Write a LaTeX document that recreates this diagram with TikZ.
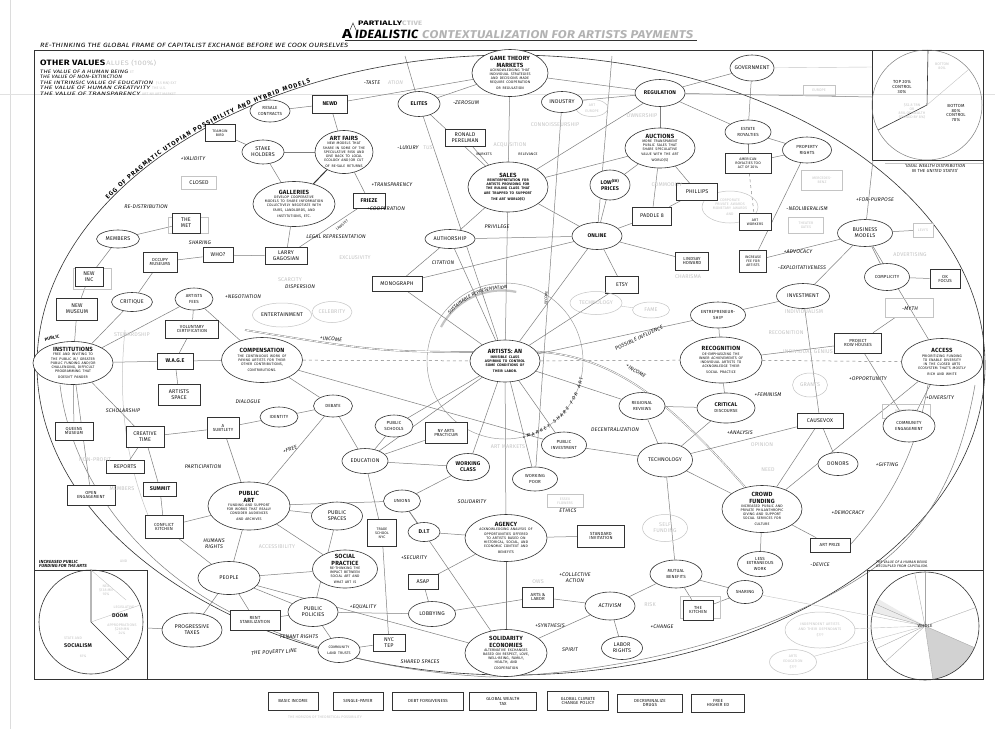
\documentclass[tikz,border=0pt]{standalone}
\usepackage{fontspec}
\setmainfont{Fira Sans}[LetterSpace=3]
\usepackage{graphicx}
\usetikzlibrary{shapes.geometric,decorations.text}
\pgfdeclarelayer{bg}
\pgfsetlayers{bg,main}
\definecolor{ink}{HTML}{111111}
\definecolor{edge}{HTML}{333333}
\definecolor{pencil}{HTML}{7E7E7E}
\definecolor{ghost}{HTML}{C4C4C4}
\newcommand\mydsc{\fontsize{3.6}{4.1}\selectfont}
\newcommand\myttl{\fontsize{6}{6.4}\selectfont\bfseries}
\newcommand\mylbl{\fontsize{5.4}{6}\selectfont}
\newcommand\mysml{\fontsize{4.4}{4.9}\selectfont}
\newcommand\mypm{\fontsize{5.3}{5.8}\selectfont\itshape}
\tikzset{
  lbl/.style={align=center,font=\mylbl,inner sep=0pt,text=ink},
  E/.style n args={3}{ellipse,draw=edge,fill=white,line width=.6pt,minimum width=#1,minimum height=#2,inner sep=0pt,label={[lbl,text width=#1pt]center:{#3}}},
  GE/.style n args={3}{ellipse,draw=ghost,line width=.5pt,minimum width=#1,minimum height=#2,inner sep=0pt,label={[lbl,text width=#1pt,text=ghost]center:{#3}}},
  B/.style={rectangle,draw=edge,fill=white,line width=.6pt,inner sep=1pt,align=center,font=\mylbl,text=ink},
  GB/.style={rectangle,draw=ghost,line width=.5pt,inner sep=1pt,align=center,font=\mylbl,text=ghost},
  ln/.style={draw=pencil,line width=.5pt},
  gl/.style={draw=ghost,line width=.4pt},
  pm/.style={font=\mypm,text=ink,inner sep=0pt},
  gt/.style={font=\mylbl,text=ghost,inner sep=0pt,align=center},
  tx/.style={font=\mylbl,text=ink,inner sep=0pt,align=center},
}
\begin{document}
\begin{tikzpicture}[x=1pt,y=-1pt]
\useasboundingbox (0,0) rectangle (995,729);
% ---------- title and header ----------
\node[inner sep=0,anchor=base west] (tA) at (342,38) {\resizebox{10pt}{9pt}{\bfseries A}};
\node[inner sep=0,anchor=base west] (tIdeal) at (355,38) {\resizebox{63pt}{8.5pt}{\bfseries\itshape IDEALISTIC}};
\node[inner sep=0,anchor=base west,text=gray!60] (tCont) at (422,38) {\resizebox{271pt}{8pt}{\bfseries\itshape CONTEXTUALIZATION FOR ARTISTS PAYMENTS}};
\node[inner sep=0,anchor=base west] (tPart) at (358,25) {\resizebox{44pt}{4.5pt}{\bfseries PARTIALLY}};
\node[inner sep=0,anchor=base west,text=ghost] (tCtive) at (402,25) {\resizebox{20pt}{4.5pt}{\bfseries CTIVE}};
\node[inner sep=0,anchor=base west] (tHead) at (40,47) {\resizebox{308pt}{4.3pt}{\itshape RE-THINKING THE GLOBAL FRAME OF CAPITALIST EXCHANGE BEFORE WE COOK OURSELVES}};
\node[inner sep=0,anchor=base west] (tOther) at (40,65) {\resizebox{65pt}{5.5pt}{\bfseries OTHER VALUES}};
\node[inner sep=0,anchor=base west,text=ghost] (tOtherG) at (106,65) {\resizebox{50pt}{5.5pt}{ALUES (100\%)}};
\node[inner sep=0,anchor=base west] (tV1) at (40,73) {\resizebox{88pt}{3.4pt}{\itshape THE VALUE OF A HUMAN BEING}};
\node[inner sep=0,anchor=base west] (tV2) at (40,78.5) {\resizebox{82pt}{3.4pt}{\itshape THE VALUE OF NON-EXTINCTION}};
\node[inner sep=0,anchor=base west] (tV3) at (40,84) {\resizebox{113pt}{3.4pt}{\itshape THE INTRINSIC VALUE OF EDUCATION}};
\node[inner sep=0,anchor=base west] (tV4) at (40,89.5) {\resizebox{110pt}{3.4pt}{\itshape THE VALUE OF HUMAN CREATIVITY}};
\node[inner sep=0,anchor=base west] (tV5) at (40,95) {\resizebox{100pt}{3.4pt}{\itshape THE VALUE OF TRANSPARENCY}};
\node[gt,font=\mydsc,anchor=base west] (tG1) at (130,73) {ET};
\node[gt,font=\mydsc,anchor=base west] (tG2) at (156,84) {(1.5 MN) EXT};
\node[gt,font=\mydsc,anchor=base west] (tG3) at (152,89.5) {THE U.S.};
\node[gt,font=\mydsc,anchor=base west] (tG4) at (142,95) {ART NY ART MARKET};
% ---------- top nodes ----------
\node[E={76}{47}{{\myttl GAME THEORY\\MARKETS\endgraf}\mydsc ACKNOWLEDGING THAT\\INDIVIDUAL STRATEGIES\\AND DECISIONS MADE\\REQUIRE COOPERATION\\OR REGULATION}] (gtm) at (510,73) {};
\node[B,minimum width=35,minimum height=18] (newd) at (330,104) {\bfseries NEWD};
\node[E={40}{22}{\mysml RESALE\\CONTRACTS}] (resale) at (270,111) {};
\node[B,font=\mydsc,minimum width=30,minimum height=17] (teamgin) at (220,133) {TEAMGIN\\BIRD};
\node[E={42}{25}{\bfseries ELITES}] (elites) at (419,104) {};
\node[GE={32}{17}{\mydsc ART\\EUROPE}] (arteurope) at (592,108) {};
\node[E={41}{21}{INDUSTRY}] (industry) at (562,102) {};
\node[E={50}{27}{\bfseries REGULATION}] (regulation) at (660,93) {};
\node[E={44}{26}{GOVERNMENT}] (government) at (752,68) {};
\node[GB,font=\mydsc,minimum width=32,minimum height=10] (europe) at (819,90) {EUROPE};
\node[E={42}{24}{STAKE\\HOLDERS}] (stake) at (263,152) {};
\node[E={58}{43}{{\myttl ART FAIRS\endgraf}\mydsc NEW MODELS THAT\\SHARE IN SOME OF THE\\SPECULATIVE RISK AND\\GIVE BACK TO LOCAL\\ECOLOGY AND/OR CUT\\OF RE-SALE RETURNS}] (artfairs) at (344,152) {};
\node[B,minimum width=40,minimum height=17] (ronald) at (465,138) {RONALD\\PERELMAN};
\node[E={70}{40}{{\myttl AUCTIONS\endgraf}\mydsc MORE TRANSPARENT\\PUBLIC SALES THAT\\SHARE SPECULATIVE\\VALUE WITH THE ART\\WORLD(S)}] (auctions) at (660,148) {};
\node[E={46}{24}{\mysml ESTATE\\ROYALTIES}] (estate) at (748,132) {};
\node[E={49}{26}{\mysml PROPERTY\\RIGHTS}] (property) at (807,150) {};
\node[B,font=\mydsc,minimum width=46,minimum height=20] (amact) at (748,163) {AMERICAN\\ROYALTIES TOO\\ACT OF 2014};
\node[GB,font=\mydsc,minimum width=41,minimum height=20] (mercedes) at (822,180) {MERCEDES-\\BENZ};
\node[E={80}{50}{{\myttl SALES\endgraf}\mydsc\bfseries REINTERPRETATION FOR\\ARTISTS PROVIDING FOR\\THE RULING CLASS THAT\\ARE TRAPPED TO SUPPORT\\THE ART WORLD(S)}] (sales) at (508,187) {};
\node[E={82}{45}{{\myttl GALLERIES\endgraf}\mydsc DEVELOP COOPERATIVE\\MODELS TO SHARE INFORMATION\\COLLECTIVELY NEGOTIATE WITH\\FAIRS, LANDLORDS, AND\\INSTITUTIONS, ETC.}] (galleries) at (294,204) {};
\node[B,minimum width=32,minimum height=15] (frieze) at (369,201) {\bfseries FRIEZE};
\node[GE={56}{32}{\mydsc CORPORATE\\PRIVATE AWARDS\\MONETARY AWARDS\\AND}] (privawards) at (730,207) {};
\node[E={40}{30}{\bfseries LOW\textsuperscript{(ER)}\\PRICES}] (lowprices) at (610,185) {};
\node[B,minimum width=41,minimum height=17] (phillips) at (697,192) {PHILLIPS};
\node[B,minimum width=39,minimum height=18] (paddle) at (652,216) {PADDLE 8};
\node[B,font=\mydsc,minimum width=32,minimum height=17] (artworkers) at (755,222) {ART\\WORKERS};
\node[GB,font=\mydsc,minimum width=35,minimum height=16] (theater) at (806,225) {THEATER\\GATES};
\node[E={50}{19}{AUTHORSHIP}] (authorship) at (450,239) {};
\node[E={50}{27}{\bfseries ONLINE}] (online) at (597,236) {};
\node[GB,font=\mydsc,minimum width=20,minimum height=14] (levis) at (923,230) {LEVI'S};
\node[E={55}{27}{BUSINESS\\MODELS}] (business) at (865,233) {};
% ---------- upper left ----------
\node[B,text=ink,draw=ghost,minimum width=35,minimum height=13] (closed) at (199,183) {CLOSED};
\node[E={43}{18}{MEMBERS}] (members) at (118,239) {};
\node[GB,minimum width=40,minimum height=16] (themetg) at (188,225) {};
\node[B,minimum width=28,minimum height=20] (themet) at (186,223) {THE\\MET};
\node[B,font=\mysml,minimum width=34,minimum height=20] (occupy) at (160,262) {OCCUPY\\MUSEUMS};
\node[B,minimum width=30,minimum height=15] (who) at (218,255) {WHO?};
\node[B,minimum width=42,minimum height=17] (larry) at (286,256) {LARRY\\GAGOSIAN};
\node[B,font=\mydsc,minimum width=27,minimum height=22] (increase) at (753,261) {INCREASE\\FEE FOR\\ARTISTS};
\node[B,font=\mysml,minimum width=33,minimum height=18] (lindsay) at (692,261) {LINDSAY\\HOWARD};
\node[E={45}{27}{\mysml COMPLICITY}] (complicity) at (887,277) {};
\node[B,font=\mysml,minimum width=30,minimum height=19] (okfocus) at (945,279) {OK\\FOCUS};
\node[GB,minimum width=38,minimum height=21] (newincg) at (92,279) {};
\node[B,minimum width=28,minimum height=19] (newinc) at (89,277) {NEW\\INC};
\node[B,minimum width=50,minimum height=15] (monograph) at (397,284) {MONOGRAPH};
\node[B,minimum width=33,minimum height=17] (etsy) at (622,285) {ETSY};
\node[GE={59}{24}{\color{ink}ENTERTAINMENT}] (entertain) at (282,315) {};
\node[GE={40}{21}{CELEBRITY}] (celebrity) at (332,312) {};
\node[GE={52}{23}{TECHNOLOGY}] (techg) at (596,303) {};
\node[GE={37}{16}{FAME}] (fame) at (651,310) {};
\node[E={53}{25}{INVESTMENT}] (investment) at (803,296) {};
\node[E={38}{22}{\mysml ARTISTS\\FEES}] (artistsfees) at (194,299) {};
\node[E={41}{19}{CRITIQUE}] (critique) at (132,302) {};
\node[B,minimum width=41,minimum height=22] (newmuseum) at (77,309) {NEW\\MUSEUM};
\node[E={55}{26}{\mysml ENTREPRENEUR-\\SHIP}] (entre) at (718,315) {};
\node[GB,minimum width=48,minimum height=19] (mythbox) at (909,308) {};
\node[B,font=\mysml,minimum width=53,minimum height=18] (voluntary) at (192,329) {VOLUNTARY\\CERTIFICATION};
\node[B,font=\mysml,minimum width=47,minimum height=20] (project) at (858,343) {PROJECT\\ROW HOUSES};
% ---------- middle band ----------
\node[E={80}{43}{{\myttl INSTITUTIONS\endgraf}\mydsc FREE AND INVITING TO\\THE PUBLIC W/ GREATER\\PUBLIC FUNDING AND/OR\\CHALLENGING, DIFFICULT\\PROGRAMMING THAT\\DOESN'T PANDER}] (publicinst) at (73,363) {};
\node[B,minimum width=36,minimum height=16] (wage) at (175,361) {\bfseries W.A.G.E};
\node[E={81}{45}{{\myttl COMPENSATION\endgraf}\mydsc THE CONTINUOUS WORK OF\\PAYING ARTISTS FOR THEIR\\OTHER CONTRIBUTIONS,\\CONTRIBUTIONS.}] (compensation) at (262,360) {};
\node[E={70}{42}{{\myttl ARTISTS: AN\endgraf}\mydsc\bfseries INVISIBLE CLASS\\ASPIRING TO CONTROL\\SOME CONDITIONS OF\\THEIR LABOR.}] (artists) at (505,361) {};
\node[E={82}{46}{{\myttl RECOGNITION\endgraf}\mydsc DE-EMPHASIZING THE\\INNER ACHIEVEMENTS OF\\INDIVIDUAL ARTISTS TO\\ACKNOWLEDGE THEIR\\SOCIAL PRACTICE}] (recognition) at (721,360) {};
\node[E={81}{47}{{\myttl ACCESS\endgraf}\mydsc PRIORITIZING FUNDING\\TO ENABLE DIVERSITY\\IN THE CLOSED ARTS\\ECOSYSTEM THAT'S MOSTLY\\RICH AND WHITE}] (access) at (942,362) {};
\node[B,minimum width=42,minimum height=21] (artistsspace) at (179,395) {ARTISTS\\SPACE};
\node[GE={35}{24}{GRANTS}] (grants) at (810,385) {};
\node[E={39}{22}{\mysml DEBATE}] (debate) at (333,406) {};
\node[E={46}{27}{\mysml REGIONAL\\REVIEWS}] (regional) at (642,406) {};
\node[E={58}{30}{{\bfseries CRITICAL}\\\mysml DISCOURSE}] (critical) at (726,408) {};
\node[E={38}{20}{\mysml IDENTITY}] (identity) at (279,417) {};
\node[B,font=\mysml,minimum width=38,minimum height=18] (queens) at (74,431) {QUEENS\\MUSEUM};
\node[B,font=\mysml,minimum width=32,minimum height=21] (asubtlety) at (223,428) {A\\SUBTLETY};
\node[B,minimum width=38,minimum height=21] (creative) at (145,437) {CREATIVE\\TIME};
\node[E={38}{22}{\mysml PUBLIC\\SCHOOLS}] (publicschools) at (394,426) {};
\node[B,font=\mysml,minimum width=42,minimum height=21] (nyarts) at (446,433) {NY ARTS\\PRACTICUM};
\node[B,minimum width=46,minimum height=15] (causevox) at (820,421) {CAUSEVOX};
\node[GB,font=\mydsc,minimum width=48,minimum height=14] (residencies) at (906,411) {RESIDENCIES};
\node[E={52}{32}{\mysml COMMUNITY\\ENGAGEMENT}] (commeng) at (909,426) {};
\node[E={45}{26}{\mysml PUBLIC\\INVESTMENT}] (publicinv) at (564,445) {};
\node[E={46}{25}{EDUCATION}] (education) at (365,461) {};
\node[E={55}{34}{TECHNOLOGY}] (technology) at (665,460) {};
\node[E={43}{27}{\bfseries WORKING\\CLASS}] (workingclass) at (468,467) {};
\node[B,minimum width=38,minimum height=13] (reports) at (125,467) {REPORTS};
\node[E={45}{24}{\mysml WORKING\\POOR}] (workingpoor) at (535,479) {};
\node[E={40}{23}{DONORS}] (donors) at (838,464) {};
% ---------- lower part ----------
\node[B,minimum width=33,minimum height=14] (summit) at (160,489) {\bfseries SUMMIT};
\node[B,font=\mysml,minimum width=48,minimum height=20] (openeng) at (91,495) {OPEN\\ENGAGEMENT};
\node[E={82}{48}{{\myttl PUBLIC\\ART\endgraf}\mydsc FUNDING AND SUPPORT\\FOR WORKS THAT REALLY\\CONSIDER AUDIENCES\\AND ARCHIVES}] (publicart) at (249,506) {};
\node[E={37}{22}{\mysml UNIONS}] (unions) at (402,501) {};
\node[E={80}{47}{{\myttl CROWD\\FUNDING\endgraf}\mydsc INCREASED PUBLIC AND\\PRIVATE PHILANTHROPIC\\GIVING AND SUPPORT\\SOCIAL SERVICES FOR\\CULTURE}] (crowd) at (762,509) {};
\node[E={51}{28}{PUBLIC\\SPACES}] (publicspaces) at (337,516) {};
\node[B,font=\mysml,minimum width=38,minimum height=23] (conflict) at (164,527) {CONFLICT\\KITCHEN};
\node[B,font=\mydsc,minimum width=29,minimum height=27] (tradeschool) at (382,533) {TRADE\\SCHOOL\\NYC};
\node[E={32}{19}{\bfseries D.I.T}] (dit) at (424,532) {};
\node[GB,font=\mydsc,minimum width=36,minimum height=13] (essex) at (565,501) {ESSEX\\FLOWERS};
\node[E={82}{47}{{\myttl AGENCY\endgraf}\mydsc ACKNOWLEDGING ANALYSIS OF\\OPPORTUNITIES OFFERED\\TO ARTISTS BASED ON\\HISTORICAL, SOCIAL, AND\\ECONOMIC CONTEXT AND\\BENEFITS}] (agency) at (506,538) {};
\node[B,font=\mysml,minimum width=47,minimum height=22] (standard) at (601,536) {STANDARD\\INVITATION};
\node[GE={45}{27}{SELF\\FUNDING}] (selffund) at (665,528) {};
\node[B,font=\mysml,minimum width=40,minimum height=14] (artprize) at (830,545) {ART PRIZE};
\node[E={45}{25}{\mysml LESS\\EXTRANEOUS\\WORK}] (lessextr) at (760,564) {};
\node[E={65}{38}{{\myttl SOCIAL\\PRACTICE\endgraf}\mydsc RE-THINKING THE\\IMPACT BETWEEN\\SOCIAL ART AND\\WHAT ART IS}] (socialpractice) at (345,569) {};
\node[E={52}{28}{\mysml MUTUAL\\BENEFITS}] (mutual) at (676,574) {};
\node[E={62}{33}{PEOPLE}] (people) at (229,578) {};
\node[B,minimum width=30,minimum height=15] (asap) at (423,582) {ASAP};
\node[E={36}{23}{\mysml SHARING}] (sharingn) at (745,592) {};
\node[B,font=\mysml,minimum width=31,minimum height=20] (artslabor) at (538,597) {ARTS \&\\LABOR};
\node[E={50}{28}{\itshape ACTIVISM}] (activism) at (610,606) {};
\node[GB,minimum width=40,minimum height=22] (kitcheng) at (700,607) {};
\node[B,font=\mysml,minimum width=30,minimum height=20] (thekitchen) at (698,610) {THE\\KITCHEN};
\node[E={50}{29}{PUBLIC\\POLICIES}] (publicpolicies) at (313,612) {};
\node[E={47}{25}{LOBBYING}] (lobbying) at (432,614) {};
\node[B,font=\mysml,minimum width=50,minimum height=20] (rent) at (255,620) {RENT\\STABILIZATION};
\node[E={60}{34}{PROGRESSIVE\\TAXES}] (progressive) at (192,630) {};
\node[B,minimum width=32,minimum height=17] (nyctep) at (389,643) {NYC\\TEP};
\node[E={41}{23}{LABOR\\RIGHTS}] (laborrights) at (622,648) {};
\node[E={42}{25}{\mydsc COMMUNITY\\LAND TRUSTS}] (commland) at (339,650) {};
\node[E={82}{47}{{\myttl SOLIDARITY\\ECONOMIES\endgraf}\mydsc ALTERNATIVE EXCHANGES\\BASED ON RESPECT, LOVE,\\WELL-BEING, FAMILY,\\HEALTH, AND\\COOPERATION}] (solidarity) at (506,653) {};
\node[GE={70}{36}{\mydsc INDEPENDENT ARTISTS\\AND THEIR DEPENDANTS\\\$???}] (indep) at (820,630) {};
\node[GE={47}{25}{\mydsc ARTS\\EDUCATION\\\$???}] (artsedu) at (793,662) {};
% ---------- bottom boxes ----------
\node[B,font=\mysml,minimum width=50,minimum height=18] (bb1) at (293,701) {BASIC INCOME};
\node[B,font=\mysml,minimum width=50,minimum height=18] (bb2) at (358,701) {SINGLE-PAYER};
\node[B,font=\mysml,minimum width=71,minimum height=18] (bb3) at (428,701) {DEBT FORGIVENESS};
\node[B,font=\mysml,minimum width=67,minimum height=18] (bb4) at (503,701) {GLOBAL WEALTH\\TAX};
\node[B,font=\mysml,minimum width=61,minimum height=19] (bb5) at (578,701) {GLOBAL CLIMATE\\CHANGE POLICY};
\node[B,font=\mysml,minimum width=65,minimum height=18] (bb6) at (650,703) {DECRIMINALIZE\\DRUGS};
\node[B,font=\mysml,minimum width=53,minimum height=18] (bb7) at (718,703) {FREE\\HIGHER ED};
\node[gt,font=\mydsc] (horizon) at (325,717) {THE HORIZON OF THEORETICAL POSSIBILITY};
% ---------- plus/minus labels ----------
\node[pm] (lvalidity) at (193,159) {+VALIDITY};
\node[pm] (lredis) at (146,207) {RE-DISTRIBUTION};
\node[pm] (lsharing) at (200,243) {SHARING};
\node[pm] (ltaste) at (372,83) {-TASTE};
\node[gt,font=\mypm,anchor=west] (ltasteg) at (388,83) {ATION};
\node[pm] (lzero) at (466,103) {-ZEROSUM};
\node[pm] (lluxury) at (408,148) {-LUXURY};
\node[gt,font=\mypm,anchor=west] (lluxuryg) at (423,148) {TUS};
\node[pm,font=\mydsc] (lmarkets) at (484,154) {MARKETS};
\node[pm,font=\mydsc] (lrelev) at (528,154) {RELEVANCE};
\node[pm] (ltransp) at (392,185) {+TRANSPARENCY};
\node[pm] (lcoop) at (386,209) {+COOPERATION};
\node[pm] (llegal) at (336,237) {LEGAL REPRESENTATION};
\node[pm,font=\mydsc,rotate=40] (llawsuit) at (342,225) {LAWSUIT};
\node[pm] (lpriv) at (497,227) {PRIVILEGE};
\node[pm] (lcitation) at (443,263) {CITATION};
\node[pm] (ldispersion) at (300,287) {DISPERSION};
\node[pm] (lnegot) at (243,297) {+NEGOTIATION};
\node[pm,rotate=-5] (lincome1) at (331,339) {+INCOME};
\node[pm,font=\mydsc\itshape,rotate=86] (lincome2) at (546,298) {INCOME};
\node[pm,rotate=25] (lposs) at (639,338) {POSSIBLE INFLUENCE};
\node[pm,rotate=-32] (lincome3) at (636,371) {+INCOME};
\node[pm] (lneolib) at (807,209) {-NEOLIBERALISM};
\node[pm] (lforp) at (875,200) {+FOR-PURPOSE};
\node[pm] (ladvoc) at (798,252) {+ADVOCACY};
\node[pm] (lexpl) at (802,268) {-EXPLOITATIVENESS};
\node[pm] (lmyth) at (910,309) {-MYTH};
\node[pm] (loppor) at (868,379) {+OPPORTUNITY};
\node[pm] (ldivers) at (940,398) {+DIVERSITY};
\node[pm] (lfemin) at (768,395) {+FEMINISM};
\node[pm] (lanal) at (740,433) {+ANALYSIS};
\node[pm] (ldecent) at (615,430) {DECENTRALIZATION};
\node[pm] (ldialog) at (248,402) {DIALOGUE};
\node[pm] (lschol) at (123,411) {SCHOLARSHIP};
\node[pm] (lpartic) at (203,467) {PARTICIPATION};
\node[pm,rotate=20] (lfree) at (290,449) {+FREE};
\node[pm] (lsolid) at (472,502) {SOLIDARITY};
\node[pm] (lethics) at (568,511) {ETHICS};
\node[pm] (lgift) at (887,465) {+GIFTING};
\node[pm] (ldemoc) at (848,513) {+DEMOCRACY};
\node[pm] (ldevice) at (820,565) {-DEVICE};
\node[pm,align=center] (lhuman) at (214,544) {HUMANS\\RIGHTS};
\node[pm] (lsecur) at (414,558) {+SECURITY};
\node[pm] (lequal) at (363,607) {+EQUALITY};
\node[pm,align=center] (lcollect) at (575,578) {+COLLECTIVE\\ACTION};
\node[pm] (lsynth) at (550,626) {+SYNTHESIS};
\node[pm] (lchange) at (662,627) {+CHANGE};
\node[pm] (lspirit) at (570,650) {SPIRIT};
\node[pm] (ltenant) at (299,637) {TENANT RIGHTS};
\node[pm,rotate=3] (lpoverty) at (274,652) {THE POVERTY LINE};
\node[pm] (lshared) at (420,662) {SHARED SPACES};
\node[pm,font=\mysml\bfseries,rotate=12] (lpublic) at (52,338) {PUBLIC};
% ---------- ghost words ----------
\node[gt] (gconn) at (555,125) {CONNOISSEURSHIP};
\node[gt] (gown) at (642,116) {OWNERSHIP};
\node[gt] (gacq) at (510,145) {ACQUISITION};
\node[gt] (gcomm) at (667,185) {COMMODITY};
\node[gt] (gexcl) at (355,258) {EXCLUSIVITY};
\node[gt] (gscar) at (290,280) {SCARCITY};
\node[gt] (gstew) at (132,335) {STEWARDSHIP};
\node[gt] (gnonprof) at (95,460) {NON-PROFIT};
\node[gt] (gmembers) at (122,489) {MEMBERS};
\node[gt] (gchar) at (688,277) {CHARISMA};
\node[gt] (gindiv) at (804,312) {INDIVIDUALISM};
\node[gt] (grecog) at (786,333) {RECOGNITION};
\node[gt] (ggenius) at (808,352) {INDIVIDUAL GENIUS};
\node[gt] (gadv) at (910,255) {ADVERTISING};
\node[gt] (gopin) at (762,445) {OPINION};
\node[gt] (gneed) at (768,470) {NEED};
\node[gt] (gaccess) at (277,547) {ACCESSIBILITY};
\node[gt] (grisk) at (650,605) {RISK};
\node[gt] (gartmkt) at (508,447) {ART MARKETS};
\node[gt] (gows) at (538,582) {OWS};
% ---------- insets ----------
\node[tx,font=\mysml] (ttop) at (902,87) {TOP 20\%\\CONTROL\\30\%};
\node[tx,font=\mysml] (tbot) at (956,113) {BOTTOM\\80\%\\CONTROL\\70\%};
\node[gt,font=\mydsc] (gtr1) at (942,66) {BOTTOM\\80\%};
\node[gt,font=\mydsc] (gtr2) at (912,111) {\$52.8 TRN\\OR\\85\% OF WEALTH\\(OWNED BY 8\%)};
\node[tx,font=\mysml\itshape] (tcap) at (935,168) {`IDEAL WEALTH DISTRIBUTION\\IN THE UNITED STATES'};
\node[tx,font=\mysml\itshape\bfseries,align=left,anchor=west] (blcap) at (39,564) {INCREASED PUBLIC\\FUNDING FOR THE ARTS};
\node[gt,font=\mydsc,anchor=west] (blcapg) at (120,561) {AND};
\node[gt,font=\mydsc] (gnea) at (106,590) {NEA\\\$138 MN\\10\%};
\node[gt,font=\mydsc] (gleg1) at (124,607) {LEGISLATIVE};
\node[tx,font=\mylbl\bfseries] (doom) at (120,616) {DOOM};
\node[gt,font=\mydsc] (gleg2) at (122,629) {APPROPRIATIONS\\\$269 MN\\24\%};
\node[gt,font=\mydsc] (gstate) at (73,638) {STATE AND};
\node[tx,font=\mylbl\bfseries] (socialism) at (78,646) {SOCIALISM};
\node[gt,font=\mydsc] (g61) at (83,656) {61\%};
\node[tx,font=\mydsc\itshape,align=left,anchor=west] (brcap) at (876,564) {THE VALUE OF A HUMAN BEING\\DECOUPLED FROM CAPITALISM.};
\node[tx,font=\mysml] (whole) at (925,626) {WHOLE};
\coordinate (trin) at (872,97);
\coordinate (trin2) at (872,67);
\coordinate (trbot) at (873,160);
\coordinate (blin) at (147,628);
\coordinate (pieC) at (925,626);
\coordinate (eggtop1) at (405,56);
\coordinate (eggtop2) at (612,56);
% ---------- text along paths ----------
\path[decorate,decoration={text along path,text={|\fontsize{6.2}{7}\selectfont\bfseries|EGG OF PRAGMATIC UTOPIAN POSSIBILITY AND HYBRID MODELS},text align=fit to path,raise=1.2pt}] (109,200.7) arc[start angle=-148,end angle=-115,x radius=474,y radius=310];
\path[decorate,decoration={text along path,text={|\fontsize{4.6}{5}\selectfont\itshape|SUSTAINABLE REPRESENTATION},text align=center}] (441.4,327.2) arc[start angle=-152,end angle=-76,radius=72];
\path[decorate,decoration={text along path,text={|\fontsize{4.8}{5}\selectfont\itshape|+MARKET SHARE FOR ART},text align=fit to path}] (523,439) arc[start angle=77,end angle=12,radius=80];
% ---------- background layer ----------
\begin{pgfonlayer}{bg}
\fill[white] (0,0) rectangle (995,729);
\draw[ghost!60,line width=.4pt] (10,0) -- (10,729);
\draw[ghost!50,line width=.4pt] (0,94) -- (995,94);
\draw[edge,line width=.7pt] (34,50) rectangle (983,679);
\draw[edge,line width=.5pt] (345,40) -- (697,40);
\draw[edge,line width=.5pt] (350,30) -- (353,23) -- (356,30);
% egg
\draw[edge,line width=.6pt] (511,365) ellipse (474 and 310);
% inner arcs
\draw[pencil,line width=.5pt] (60,385) .. controls (70,470) and (130,560) .. (230,612) .. controls (320,655) and (400,672) .. (490,677);
\draw[pencil,line width=.5pt] (975,385) .. controls (960,470) and (930,530) .. (867,573) .. controls (790,625) and (650,672) .. (490,677);
\draw[pencil,line width=.5pt] (928,385) .. controls (918,440) and (900,490) .. (850,545);
\draw[ghost,line width=.5pt] (125,330) .. controls (118,400) and (125,460) .. (150,520);
\draw[pencil!80,line width=.45pt] (505,361) circle[radius=78];
\draw[ghost,line width=2.2pt] (441,327) arc[start angle=-152,end angle=-78,radius=69];
% income curve
\draw[pencil,double=white,double distance=.8pt,line width=.4pt] (245,330) .. controls (380,352) .. (505,352) .. controls (600,345) and (660,390) .. (745,487);
% dashed axis
\draw[pencil,dashed,line width=.5pt] (compensation) -- (artists);
\draw[pencil,dashed,line width=.5pt] (artists) -- (recognition);
\draw[pencil,dashed,line width=.5pt] (recognition) -- (access);
% insets
\draw[edge,line width=.6pt] (872,50) -- (872,160) -- (983,160);
\draw[pencil,line width=.5pt] (927,105) circle[radius=55];
\draw[edge,line width=.6pt] (928,50) -- (927,105) -- (878,130);
\draw[ghost] (927,105) -- (968,70);
\draw[ghost] (885,163) -- (983,163);
\draw[edge,line width=.6pt] (34,570) -- (147,570) -- (147,679);
\draw[edge,line width=.6pt] (91,622) circle[radius=52];
\draw[edge,line width=.6pt] (91,570) -- (91,622) -- (129,660);
\draw[ghost] (91,622) -- (140,605);
\draw[ghost] (91,570) -- (126,600);
\draw[edge,line width=.6pt] (867,679) -- (867,570) -- (983,570);
\fill[gray!35] (925,626) -- ++(23.6:54) arc[start angle=23.6,end angle=81.5,radius=54] -- cycle;
\fill[gray!15] (925,626) -- ++(-150:54) arc[start angle=-150,end angle=-165,radius=54] -- cycle;
\draw[edge,line width=.6pt] (925,626) circle[radius=54];
\foreach \a in {-90,-101,-156,-165,155,138,23.6,81.5,-20} {\draw[pencil!70,line width=.35pt] (925,626) -- ++(\a:54);}
% connectors
\draw[ln] (newd) -- (resale);
\draw[ln] (newd) -- (gtm);
\draw[ln] (newd) -- (artfairs);
\draw[ln] (artfairs) -- (stake);
\draw[edge,line width=1pt] (artfairs) -- (galleries);
\draw[ln] (artfairs) -- (frieze);
\draw[ln] (stake) -- (galleries);
\draw[ln] (stake) -- (teamgin);
\draw[ln] (gtm) -- (sales);
\draw[ln] (gtm) -- (elites);
\draw[ln] (gtm) -- (regulation);
\draw[ln] (elites) -- (sales);
\draw[ln] (eggtop1) -- (elites);
\draw[ln] (sales) -- (online);
\draw[ln] (sales) -- (auctions);
\draw[ln] (sales) -- (regulation);
\draw[ln] (ronald) -- (sales);
\draw[ln] (sales) -- (authorship);
\draw[ln] (sales) -- (artists);
\draw[ln] (regulation) -- (government);
\draw[ln] (regulation) -- (auctions);
\draw[ln] (regulation) -- (estate);
\draw[ln] (regulation) -- (industry);
\draw[ln] (regulation) -- (trin);
\draw[gl] (government) -- (trin2);
\draw[ln] (government) -- (estate);
\draw[ln] (estate) -- (amact);
\draw[ln] (estate) -- (property);
\draw[ln] (amact) -- (property);
\draw[pencil,dashed,line width=.45pt] (amact) -- (artworkers);
\draw[ln] (property) -- (increase);
\draw[ln] (auctions) -- (phillips);
\draw[ln] (auctions) -- (lowprices);
\draw[ln] (auctions) -- (paddle);
\draw[ln] (paddle) -- (phillips);
\draw[ln] (paddle) -- (online);
\draw[ln] (lowprices) -- (online);
\draw[ln] (online) -- (etsy);
\draw[ln] (online) -- (lindsay);
\draw[ln] (online) -- (artists);
\draw[ln] (online) -- (eggtop2);
\draw[ln] (monograph) -- (online);
\draw[ln] (authorship) -- (monograph);
\draw[ln] (authorship) -- (online);
\draw[ln] (larry) -- (who);
\draw[ln] (larry) -- (frieze);
\draw[ln] (galleries) -- (larry);
\draw[ln] (members) -- (newinc);
\draw[ln] (members) -- (themet);
\draw[ln] (newinc) -- (newmuseum);
\draw[ln] (newmuseum) -- (publicinst);
\draw[ln] (critique) -- (publicinst);
\draw[ln] (critique) -- (occupy);
\draw[ln] (occupy) -- (who);
\draw[ln] (artistsfees) -- (publicinst);
\draw[ln] (artistsfees) -- (voluntary);
\draw[ln] (voluntary) -- (wage);
\draw[ln] (artistsfees) -- (compensation);
\draw[ln] (wage) -- (artistsspace);
\draw[ln] (wage) -- (publicinst);
\draw[ln] (wage) -- (compensation);
\draw[ln] (publicinst) -- (queens);
\draw[ln] (publicinst) -- (creative);
\draw[ln] (publicinst) -- (openeng);
\draw[ln] (creative) -- (reports);
\draw[ln] (creative) -- (summit);
\draw[ln] (creative) -- (asubtlety);
\draw[ln] (summit) -- (conflict);
\draw[ln] (conflict) -- (publicart);
\draw[ln] (conflict) -- (people);
\draw[ln] (asubtlety) -- (identity);
\draw[ln] (asubtlety) -- (publicart);
\draw[ln] (identity) -- (debate);
\draw[ln] (debate) -- (education);
\draw[ln] (debate) -- (publicart);
\draw[ln] (debate) -- (compensation);
\draw[ln] (education) -- (publicschools);
\draw[ln] (education) -- (workingclass);
\draw[ln] (education) -- (nyarts);
\draw[ln] (education) -- (tradeschool);
\draw[ln] (workingclass) -- (artists);
\draw[ln] (unions) -- (workingclass);
\draw[ln] (unions) -- (dit);
\draw[ln] (unions) -- (solidarity);
\draw[ln] (unions) -- (publicart);
\draw[ln] (dit) -- (agency);
\draw[ln] (agency) -- (standard);
\draw[ln] (agency) -- (solidarity);
\draw[ln] (agency) -- (artists);
\draw[ln] (asap) -- (lobbying);
\draw[ln] (asap) -- (agency);
\draw[ln] (lobbying) -- (publicpolicies);
\draw[ln] (lobbying) -- (artslabor);
\draw[ln] (publicspaces) -- (publicpolicies);
\draw[ln] (publicpolicies) -- (commland);
\draw[ln] (publicpolicies) -- (people);
\draw[ln] (publicpolicies) -- (rent);
\draw[ln] (commland) -- (nyctep);
\draw[ln] (tradeschool) -- (nyctep);
\draw[ln] (people) -- (publicart);
\draw[ln] (people) -- (progressive);
\draw[ln] (people) -- (rent);
\draw[ln] (people) -- (socialpractice);
\draw[ln] (people) -- (solidarity);
\draw[ln] (publicart) -- (publicspaces);
\draw[ln] (publicart) -- (socialpractice);
\draw[ln] (progressive) -- (blin);
\draw[ln] (activism) -- (mutual);
\draw[ln] (activism) -- (laborrights);
\draw[ln] (activism) -- (artslabor);
\draw[ln] (activism) -- (solidarity);
\draw[ln] (mutual) -- (thekitchen);
\draw[ln] (mutual) -- (sharingn);
\draw[ln] (mutual) -- (technology);
\draw[ln] (thekitchen) -- (sharingn);
\draw[ln] (lessextr) -- (crowd);
\draw[ln] (crowd) -- (artprize);
\draw[ln] (crowd) -- (causevox);
\draw[ln] (crowd) -- (technology);
\draw[ln] (crowd) -- (access);
\draw[ln] (causevox) -- (donors);
\draw[ln] (causevox) -- (investment);
\draw[ln] (causevox) -- (technology);
\draw[ln] (commeng) -- (access);
\draw[ln] (commeng) -- (project);
\draw[ln] (project) -- (recognition);
\draw[ln] (project) -- (mythbox);
\draw[ln] (investment) -- (business);
\draw[ln] (investment) -- (entre);
\draw[ln] (complicity) -- (okfocus);
\draw[ln] (complicity) -- (business);
\draw[ln] (business) -- (levis);
\draw[ln] (business) -- (access);
\draw[ln] (business) -- (increase);
\draw[ln] (business) -- (trbot);
\draw[ln] (recognition) -- (critical);
\draw[ln] (recognition) -- (entre);
\draw[ln] (critical) -- (regional);
\draw[ln] (critical) -- (technology);
\draw[ln] (regional) -- (technology);
\draw[ln] (regional) -- (artists);
\draw[ln] (technology) -- (publicinv);
\draw[ln] (publicinv) -- (artists);
\draw[ln] (workingpoor) -- (artists);
\draw[ln] (workingpoor) -- (industry);
\draw[ln] (artists) -- (elites);
\draw[ln] (artists) -- (authorship);
\draw[ln] (artists) -- (etsy);
\draw[ln] (artists) -- (entre);
\draw[ln] (artists) -- (monograph);
\draw[ln] (artists) -- (publicschools);
\draw[ln] (artists) -- (education);
\draw[ln] (compensation) -- (publicinv);
\draw[gl] (indep) -- (pieC);
\draw[gl] (artsedu) -- (pieC);
\draw[gl] (sharingn) -- (pieC);
\draw[gl] (entertain) -- (celebrity);
\draw[gl] (fame) -- (techg);
\end{pgfonlayer}
\end{tikzpicture}
\end{document}
